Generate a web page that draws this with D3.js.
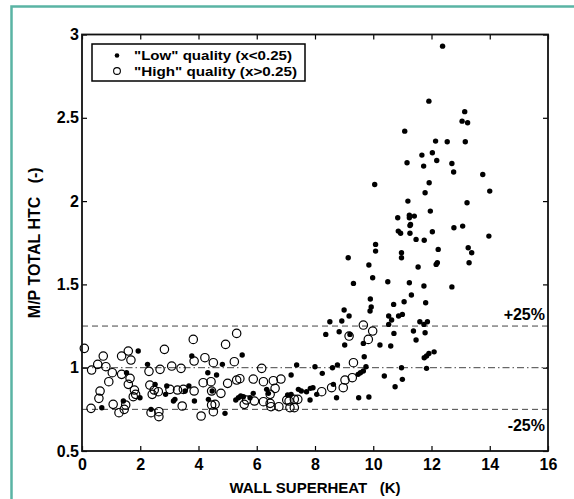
<!DOCTYPE html>
<html>
<head>
<meta charset="utf-8">
<script src="https://cdn.jsdelivr.net/npm/d3@7"></script>
<style>
  body { margin: 0; background: #fff; }
  svg { display: block; }
  text { font-family: "Liberation Sans", Arial, sans-serif; font-weight: bold; fill: #000; }
</style>
</head>
<body>
<div id="chart"></div>
<script>
// "Low" quality points (x<0.25): [wall superheat K, M/P total HTC]
const lowQuality = [
  [0.68,0.76],[1.42,0.80],[1.53,0.97],[1.93,1.10],[1.99,0.82],[2.25,1.02],[2.37,0.75],[2.51,0.90],
  [2.87,0.84],[2.91,0.89],[3.14,0.80],[3.19,0.81],[3.54,0.86],[3.67,0.89],[3.77,1.07],[3.86,0.80],
  [4.32,0.97],[4.34,0.81],[4.47,0.86],[4.62,0.956],[4.82,1.02],[4.91,0.726],[5.28,0.806],[5.37,0.82],
  [5.45,0.83],[5.54,0.826],[5.50,1.076],[5.77,0.82],[5.88,0.846],[6.34,0.87],[6.40,0.846],[7.06,0.836],
  [7.18,0.84],[7.18,0.956],[7.37,1.016],[7.43,0.87],[7.53,0.86],[7.71,0.856],[7.84,0.876],[7.93,0.88],
  [7.83,0.806],[8.0,1.006],[8.06,0.84],[8.25,0.966],[8.37,1.20],
  [8.51,1.276],[8.60,1.0],[8.63,0.90],[8.74,0.82],[8.77,1.016],[8.83,1.216],[8.92,1.28],[9.0,1.346],
  [9.02,1.136],[9.17,1.31],[9.20,1.20],[9.14,1.66],[9.32,1.506],[9.48,0.96],[9.50,0.82],[9.56,0.97],
  [9.66,0.98],[9.66,1.146],[9.69,1.066],[9.75,1.006],[9.85,0.824],[9.85,1.616],[9.89,1.34],[9.90,1.412],
  [9.93,1.364],[9.98,1.54],[10.08,1.74],[10.08,1.70],[10.23,1.136],[10.38,0.95],[10.50,1.516],[10.53,1.31],
  [10.53,1.26],[10.60,1.13],[10.63,1.286],[10.70,1.38],[10.71,1.206],[10.75,0.886],[10.86,1.82],[10.87,1.31],
  [10.94,1.807],[10.97,1.69],[10.97,1.66],[10.97,1.0],[11.0,1.32],[11.0,0.93],[11.06,1.396],[11.24,1.51],
  [11.26,1.807],[11.26,1.853],[11.31,1.436],[11.38,1.22],[11.47,1.77],[11.47,1.166],[11.54,1.604],[11.60,1.276],
  [11.74,1.26],[11.74,1.49],[11.75,1.765],[11.75,1.06],[11.78,1.21],[11.80,1.39],[11.83,0.996],[11.83,1.07],
  [11.86,1.276],[11.91,1.085],[12.03,1.816],[12.09,1.095],[12.16,1.62],[12.20,1.63],[12.23,1.71],[12.70,1.485],
  [12.77,1.84],[13.07,1.85],[13.26,1.72],[13.29,1.63],[13.38,1.69],[13.97,1.79],
  [10.05,2.10],[10.84,1.90],[11.08,2.42],[11.16,2.23],[11.19,2.0],[11.24,1.915],[11.24,1.90],[11.28,1.86],
  [11.41,1.91],[11.67,2.276],[11.73,2.21],[11.78,2.05],[11.91,2.60],[11.92,2.11],[11.96,1.94],[12.03,2.29],
  [12.14,2.36],[12.18,2.244],[12.38,2.93],[12.54,2.356],[12.70,2.226],[12.76,2.175],[13.05,2.48],[13.14,2.537],
  [13.16,2.356],[13.22,1.99],[13.24,2.47],[13.76,2.16],[14.0,2.06]
];

// "High" quality points (x>0.25)
const highQuality = [
  [0.08,1.116],[0.31,0.756],[0.33,0.986],[0.54,1.02],[0.58,0.816],[0.62,0.86],[0.73,1.07],[0.82,1.006],
  [0.92,0.916],[1.04,0.97],[1.07,0.78],[1.27,0.73],[1.36,1.07],[1.36,0.96],[1.45,0.75],[1.50,0.776],
  [1.59,1.10],[1.59,0.90],[1.65,0.936],[1.68,1.046],[1.76,0.826],[1.80,0.866],[1.84,0.84],[2.30,0.978],
  [2.33,0.896],[2.37,0.73],[2.41,0.84],[2.48,0.866],[2.62,0.856],[2.64,0.736],[2.64,0.706],[2.68,0.99],
  [2.83,1.11],[3.02,0.87],[3.08,1.01],[3.28,0.866],[3.40,0.996],[3.44,0.77],[3.48,0.87],[3.82,1.17],
  [3.85,1.04],[3.85,0.86],[4.09,0.71],[4.16,0.91],[4.22,1.06],[4.43,0.916],[4.45,0.776],[4.51,1.03],
  [4.45,0.86],[4.51,0.736],[4.57,0.78],[4.77,0.846],[4.93,1.14],[5.0,0.906],[5.23,1.036],[5.31,1.206],
  [5.31,0.926],[5.42,0.934],[5.57,0.78],[5.65,0.806],[5.88,0.932],[5.92,0.80],[6.17,0.996],[6.23,0.916],
  [6.23,0.796],[6.46,0.84],[6.46,0.786],[6.49,0.766],[6.57,0.922],[6.63,0.876],[6.76,0.766],[6.83,0.932],
  [7.03,0.806],[7.11,0.80],[7.14,0.76],[7.29,0.81],[7.29,0.76],[7.41,0.81],[8.23,0.856],
  [8.57,0.88],[8.97,0.88],[9.03,0.926],[9.17,1.19],[9.28,0.94],[9.32,1.03],[9.66,1.256],[9.83,1.17],[9.98,1.22]
];

const xTicks = [0, 2, 4, 6, 8, 10, 12, 14, 16];
const yTicks = [0.5, 1, 1.5, 2, 2.5, 3];
const dashedLevels = [1.25, 0.75];
const dashDotLevels = [1];
const bandLabels = [{ text: '+25%', value: 1.25, dy: -6 }, { text: '-25%', value: 0.75, dy: 22 }];
const legendItems = [
  { label: '"Low" quality (x<0.25)', type: 'low' },
  { label: '"High" quality (x>0.25)', type: 'high' }
];

const W = 574, H = 499;
const svg = d3.select('#chart').append('svg').attr('width', W).attr('height', H);

// teal frame
svg.append('rect')
  .attr('x', 11.5).attr('y', 6.5).attr('width', 700).attr('height', 700)
  .attr('fill', 'none').attr('stroke', '#5ab4a4').attr('stroke-width', 2.5);

const x = d3.scaleLinear().domain([0, 16]).range([82, 548]);
const y = d3.scaleLinear().domain([0.5, 3]).range([451, 34.5]);

// reference lines
svg.selectAll('.dash').data(dashedLevels).enter().append('line')
  .attr('x1', x(0)).attr('x2', x(16))
  .attr('y1', d => y(d)).attr('y2', d => y(d))
  .attr('stroke', '#444').attr('stroke-width', 1).attr('stroke-dasharray', '6,4');
svg.selectAll('.dashdot').data(dashDotLevels).enter().append('line')
  .attr('x1', x(0)).attr('x2', x(16))
  .attr('y1', d => y(d)).attr('y2', d => y(d))
  .attr('stroke', '#444').attr('stroke-width', 1).attr('stroke-dasharray', '7,3,1.5,3');

svg.selectAll('.band-label').data(bandLabels).enter().append('text')
  .attr('x', 545).attr('y', d => y(d.value) + d.dy)
  .attr('text-anchor', 'end').style('font-size', '16px')
  .text(d => d.text);

// points
svg.append('g').selectAll('circle').data(highQuality).enter().append('circle')
  .attr('cx', d => x(d[0])).attr('cy', d => y(d[1])).attr('r', 4.2)
  .attr('fill', 'none').attr('stroke', '#000').attr('stroke-width', 1.2);
svg.append('g').selectAll('circle').data(lowQuality).enter().append('circle')
  .attr('cx', d => x(d[0])).attr('cy', d => y(d[1])).attr('r', 2.7)
  .attr('fill', '#000');

// axes with inward ticks
const axisStyle = g => {
  g.select('.domain').remove();
  g.selectAll('.tick line').attr('stroke', '#000').attr('stroke-width', 1.2);
  g.selectAll('text').style('font-size', '16px').attr('fill', '#000');
};
svg.append('g').attr('transform', `translate(0,${y(0.5)})`)
  .call(d3.axisBottom(x).tickValues(xTicks).tickSize(-5).tickPadding(8).tickFormat(d3.format('d')))
  .call(axisStyle);
svg.append('g').attr('transform', `translate(0,${y(3)})`)
  .call(d3.axisTop(x).tickValues(xTicks).tickSize(-5).tickFormat(''))
  .call(axisStyle);
svg.append('g').attr('transform', `translate(${x(0)},0)`)
  .call(d3.axisLeft(y).tickValues(yTicks).tickSize(-5).tickPadding(3).tickFormat(d => String(d)))
  .call(axisStyle);
svg.append('g').attr('transform', `translate(${x(16)},0)`)
  .call(d3.axisRight(y).tickValues(yTicks).tickSize(-5).tickFormat(''))
  .call(axisStyle);

svg.append('rect')
  .attr('x', x(0)).attr('y', y(3)).attr('width', x(16) - x(0)).attr('height', y(0.5) - y(3))
  .attr('fill', 'none').attr('stroke', '#111').attr('stroke-width', 1.8);

// axis titles
svg.append('text')
  .attr('x', (x(0) + x(16)) / 2).attr('y', 493)
  .attr('text-anchor', 'middle').style('font-size', '15px').style('white-space', 'pre')
  .text('WALL SUPERHEAT   (K)');
svg.append('text')
  .attr('transform', `translate(40,${(y(0.5) + y(3)) / 2}) rotate(-90)`)
  .attr('text-anchor', 'middle').style('font-size', '16px').style('white-space', 'pre')
  .text('M/P TOTAL HTC   (-)');

// legend
const legend = svg.append('g');
legend.append('rect')
  .attr('x', 92).attr('y', 44).attr('width', 213).attr('height', 37)
  .attr('fill', '#fff').attr('stroke', '#000').attr('stroke-width', 1.5);
legendItems.forEach((item, i) => {
  const cy = 55.5 + i * 15.5;
  if (item.type === 'low') {
    legend.append('circle').attr('cx', 117).attr('cy', cy).attr('r', 2.3).attr('fill', '#000');
  } else {
    legend.append('circle').attr('cx', 117).attr('cy', cy).attr('r', 3.4)
      .attr('fill', 'none').attr('stroke', '#000').attr('stroke-width', 1.1);
  }
  legend.append('text')
    .attr('x', 134).attr('y', cy).attr('dy', '0.36em')
    .style('font-size', '13.5px')
    .attr('textLength', i === 0 ? 158 : 163).attr('lengthAdjust', 'spacingAndGlyphs')
    .text(item.label);
});
</script>
</body>
</html>
